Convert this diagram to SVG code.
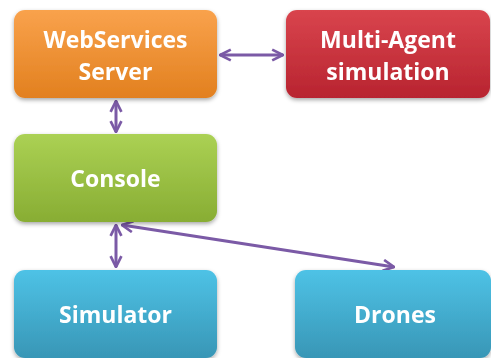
<svg xmlns="http://www.w3.org/2000/svg" width="491" height="358" viewBox="0 0 491 358">
<defs>
<linearGradient id="gO" x1="0" y1="0" x2="0" y2="1"><stop offset="0" stop-color="#f9a24c"/><stop offset="1" stop-color="#e2801f"/></linearGradient>
<linearGradient id="gR" x1="0" y1="0" x2="0" y2="1"><stop offset="0" stop-color="#d9444d"/><stop offset="1" stop-color="#b82430"/></linearGradient>
<linearGradient id="gG" x1="0" y1="0" x2="0" y2="1"><stop offset="0" stop-color="#abd154"/><stop offset="1" stop-color="#88ad33"/></linearGradient>
<linearGradient id="gB" x1="0" y1="0" x2="0" y2="1"><stop offset="0" stop-color="#4ec2e6"/><stop offset="1" stop-color="#3896b6"/></linearGradient>
<filter id="sh" x="-10%" y="-10%" width="120%" height="130%"><feDropShadow dx="0" dy="2" stdDeviation="2" flood-color="#000" flood-opacity="0.35"/></filter>
<marker id="ah" viewBox="0 0 10 10" refX="9" refY="5" markerWidth="4.5" markerHeight="4.5" orient="auto-start-reverse" markerUnits="strokeWidth"><path d="M1,1 L9,5 L1,9" fill="none" stroke="#7b5aa6" stroke-width="2"/></marker>
</defs>
<style>
.n{filter:url(#sh)}
.t{font-family:"Open Sans","Liberation Sans",sans-serif;font-weight:bold;font-size:23px;fill:#fff;text-anchor:middle}
.c{stroke:#7b5aa6;stroke-width:3;fill:none;marker-start:url(#ah);marker-end:url(#ah)}
</style>
<rect width="491" height="358" fill="#fff"/>
<g id="connectors">
<line class="c" x1="220" y1="55" x2="283" y2="55"/>
<line class="c" x1="116" y1="101" x2="116" y2="132"/>
<line class="c" x1="116" y1="225" x2="116" y2="267"/>
<line class="c" x1="122" y1="225" x2="394" y2="267"/>
</g>
<g id="webservices" class="n"><rect x="14" y="10" width="203" height="88" rx="11" fill="url(#gO)"/><text class="t" x="115.5" y="48">WebServices</text><text class="t" x="115.5" y="80">Server</text></g>
<g id="multiagent" class="n"><rect x="286" y="10" width="204" height="88" rx="11" fill="url(#gR)"/><text class="t" x="388" y="48">Multi-Agent</text><text class="t" x="388" y="80">simulation</text></g>
<g id="console" class="n"><rect x="14" y="134" width="203" height="88" rx="11" fill="url(#gG)"/><text class="t" x="115.5" y="187">Console</text></g>
<g id="simulator" class="n"><rect x="14" y="270" width="203" height="88" rx="11" fill="url(#gB)"/><text class="t" x="115.5" y="323">Simulator</text></g>
<g id="drones" class="n"><rect x="295" y="270" width="196" height="88" rx="11" fill="url(#gB)"/><text class="t" x="395" y="323">Drones</text></g>
</svg>
